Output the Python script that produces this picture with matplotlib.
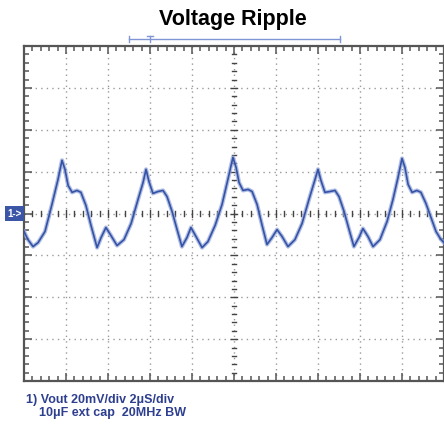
import matplotlib
matplotlib.use("Agg")
import matplotlib.pyplot as plt
from matplotlib.ticker import MultipleLocator
import matplotlib.transforms as mtransforms

# time in microseconds, voltage in mV (20 mV/div, 2 us/div)
t_us = [0.00, 0.19, 0.43, 0.67, 1.00, 1.33, 1.62, 1.81, 1.95, 2.10, 2.29, 2.52, 2.71, 2.95,
        3.19, 3.48, 3.67, 3.90, 4.14, 4.43, 4.76, 5.10, 5.43, 5.67, 5.81, 5.95, 6.14, 6.38,
        6.62, 6.81, 7.05, 7.29, 7.52, 7.76, 7.95, 8.19, 8.48, 8.76, 9.10, 9.43, 9.71, 9.95,
        10.10, 10.24, 10.43, 10.67, 10.86, 11.10, 11.33, 11.57, 11.81, 12.05, 12.29, 12.57,
        12.90, 13.24, 13.57, 13.86, 14.00, 14.14, 14.33, 14.57, 14.81, 15.00, 15.24, 15.48,
        15.71, 15.95, 16.14, 16.38, 16.62, 16.95, 17.29, 17.57, 17.81, 18.00, 18.14, 18.29,
        18.48, 18.71, 18.90, 19.14, 19.38, 19.62, 19.86, 20.00]
v_mv = [-8.6, -12.5, -15.8, -13.9, -8.6, 4.3, 16.3, 25.4, 21.1, 13.4, 10.1, 11.0, 10.1, 3.8,
        -5.7, -16.3, -11.5, -6.7, -10.5, -15.3, -12.5, -4.8, 6.7, 14.8, 21.1, 15.3, 9.6, 10.5,
        11.0, 8.1, 1.0, -7.7, -15.8, -11.5, -6.7, -11.0, -16.3, -13.4, -5.7, 4.3, 16.3, 26.8,
        22.0, 14.8, 11.0, 11.5, 10.5, 4.3, -5.3, -14.8, -11.5, -7.7, -11.0, -15.8,
        -12.5, -4.8, 6.7, 16.3, 21.1, 15.8, 10.1, 10.5, 11.0, 8.1, 1.0, -7.7,
        -15.8, -11.5, -7.2, -11.0, -15.8, -12.5, -3.8, 6.7, 17.2, 26.3, 22.0, 13.9,
        10.1, 11.0, 10.1, 4.8, -1.9, -8.6, -12.5, -13.9]

x_div = 2.0    # us per division
y_div = 20.0   # mV per division
cursor_span = [5.0, 15.05]
cursor_mark = 6.0

trace_blue = "#3552a6"
label_blue = "#2d3f8e"
grid_gray = "#9a9a9a"
frame_gray = "#555555"

fig = plt.figure(figsize=(4.44, 4.27), dpi=100)
ax = fig.add_axes([24 / 444, 1 - 382 / 427, 420 / 444, 335 / 427])
ax.set_xlim(0, 10 * x_div)
ax.set_ylim(-4 * y_div, 4 * y_div)

# dotted graticule
for i in range(1, 10):
    ax.axvline(i * x_div, color=grid_gray, lw=1.0, ls=(0, (1, 3)), zorder=1)
for j in range(-3, 4):
    ax.axhline(j * y_div, color=grid_gray, lw=1.0, ls=(0, (1, 3)), zorder=1)

# centre cross lines with small dashes
k = 0.4
while k < 20:
    h = 1.6 if abs(k / x_div - round(k / x_div)) < 1e-6 else 1.0
    ax.plot([k, k], [-h, h], color="#444444", lw=1.0, zorder=2)
    k += 0.4
k = -76
while k < 80:
    w = 0.14 if k % 20 == 0 else 0.08
    ax.plot([10 - w, 10 + w], [k, k], color="#444444", lw=1.0, zorder=2)
    k += 4

# trace
ax.plot(t_us, v_mv, color="#8fa3d8", lw=3.0, alpha=0.7, zorder=3, solid_joinstyle="round")
ax.plot(t_us, v_mv, color=trace_blue, lw=1.2, zorder=4, solid_joinstyle="round")

# frame and inward ticks
for s in ax.spines.values():
    s.set_color(frame_gray)
    s.set_linewidth(1.6)
ax.xaxis.set_major_locator(MultipleLocator(x_div))
ax.xaxis.set_minor_locator(MultipleLocator(x_div / 5))
ax.yaxis.set_major_locator(MultipleLocator(y_div))
ax.yaxis.set_minor_locator(MultipleLocator(y_div / 5))
ax.tick_params(which="both", direction="in", top=True, right=True,
               labelbottom=False, labelleft=False, color=frame_gray, width=1.1)
ax.tick_params(which="major", length=6)
ax.tick_params(which="minor", length=3.5)

# cursor bracket above the screen
trans = mtransforms.blended_transform_factory(ax.transData, ax.transAxes)
ax.plot(cursor_span, [1.021, 1.021], color="#7f95d4", lw=1.0, transform=trans, clip_on=False)
for xc in cursor_span:
    ax.plot([xc, xc], [1.012, 1.030], color="#7f95d4", lw=1.0, transform=trans, clip_on=False)
ax.plot([cursor_mark, cursor_mark], [1.012, 1.030], color="#7f95d4", lw=1.0,
        transform=trans, clip_on=False)
ax.plot([cursor_mark - 0.12, cursor_mark + 0.12], [1.030, 1.030], color="#7f95d4", lw=1.0,
        transform=trans, clip_on=False)

# channel marker
ax.text(-0.005, 0.5, "1->", transform=ax.transAxes, ha="right", va="center",
        color="white", fontsize=7, fontweight="bold", family="Liberation Sans",
        bbox=dict(boxstyle="square,pad=0.25", fc="#3b56a6", ec="none"), clip_on=False)

fig.text(0.525, 0.955, "Voltage Ripple", ha="center", va="center",
         fontsize=15.5, fontweight="bold", family="Liberation Sans")
fig.text(26 / 444, 1 - 400 / 427, "1) Vout 20mV/div 2\u03bcS/div", ha="left", va="center",
         fontsize=9, fontweight="bold", color=label_blue, family="Liberation Sans")
fig.text(39 / 444, 1 - 413 / 427, "10\u03bcF ext cap  20MHz BW", ha="left", va="center",
         fontsize=9, fontweight="bold", color=label_blue, family="Liberation Sans")

fig.savefig("out.png", dpi=100)
